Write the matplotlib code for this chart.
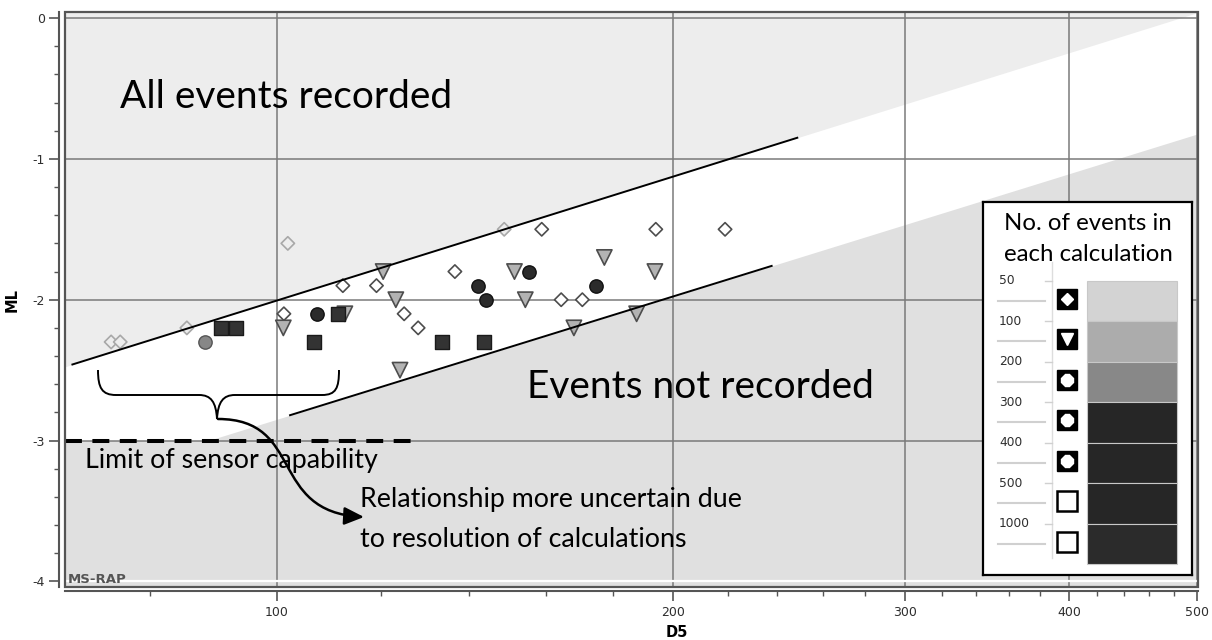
import numpy as np
import matplotlib
matplotlib.use('Agg')
import matplotlib.pyplot as plt
from matplotlib.path import Path
from matplotlib.patches import PathPatch, FancyArrowPatch, Rectangle
from matplotlib.ticker import FixedLocator, FixedFormatter, MultipleLocator, NullFormatter

plt.rcParams['axes.unicode_minus'] = False

# Events per calculation: 50-100 (diamonds)
d5_50 = [74.8, 76.0, 85.4, 101.9, 101.2, 112.2, 119.0, 124.9, 128.0, 136.5,
         148.8, 158.9, 164.4, 170.6, 194.0, 219.0]
ml_50 = [-2.3, -2.3, -2.2, -1.6, -2.1, -1.9, -1.9, -2.1, -2.2, -1.8,
         -1.5, -1.5, -2.0, -2.0, -1.5, -1.5]
# 100-200 (triangles)
d5_100 = [101.1, 112.6, 120.4, 123.1, 124.0, 151.5, 154.4, 168.1, 177.3, 187.6, 193.7]
ml_100 = [-2.2, -2.1, -1.8, -2.0, -2.5, -1.8, -2.0, -2.2, -1.7, -2.1, -1.8]
# 200-300 (grey circle)
d5_200 = [88.1]
ml_200 = [-2.3]
# 300-500 (dark circles)
d5_300 = [107.3, 142.2, 144.2, 155.5, 174.7]
ml_300 = [-2.1, -1.9, -2.0, -1.8, -1.9]
# 500+ (squares)
d5_500 = [90.7, 93.0, 106.7, 111.2, 133.5, 143.7]
ml_500 = [-2.2, -2.2, -2.3, -2.1, -2.3, -2.3]

# Detection band edges
upper_d5 = [69.9, 248.5]
upper_ml = [-2.46, -0.85]
lower_d5 = [102.3, 237.6]
lower_ml = [-2.82, -1.76]
sensor_limit = -3.0
sensor_limit_d5 = [69, 126.6]

# Legend
legend_labels = ['50', '100', '200', '300', '400', '500', '1000']
legend_shades = ['#d3d3d3', '#acacac', '#888888', '#262626', '#262626', '#262626', '#2b2b2b']
legend_icons = ['D', 'v', '8', '8', '8', 's', 's']

x_major = [100, 200, 300, 400, 500]
x_minor = [80, 120, 140, 160, 180, 220, 240, 260, 280, 320, 340, 360, 380,
           420, 440, 460, 480]
y_major = [0, -1, -2, -3, -4]

TEXT_FONT = ['Lato', 'DejaVu Sans']
TICK_FONT = ['DejaVu Sans']
UPPER_SHADE = '#ededed'
LOWER_SHADE = '#e0e0e0'


def band_line(d5, ml, x):
    slope = (ml[1] - ml[0]) / (np.log10(d5[1]) - np.log10(d5[0]))
    return ml[0] + slope * (np.log10(x) - np.log10(d5[0]))


fig = plt.figure(figsize=(12.12, 6.4), dpi=100)
ax = fig.add_axes([65 / 1212, 53 / 640, 1133 / 1212, 575 / 640])
ax.set_xscale('log')
ax.set_xlim(69, 501)
ax.set_ylim(-4.04, 0.043)

# shaded regions
xs = np.geomspace(69, 501, 300)
ax.fill_between(xs, band_line(upper_d5, upper_ml, xs), 0.1, color=UPPER_SHADE, lw=0, zorder=0)
ax.fill_between(xs, -4.2, np.maximum(band_line(lower_d5, lower_ml, xs), sensor_limit),
                color=LOWER_SHADE, lw=0, zorder=0)

# grid
ax.set_axisbelow(True)
ax.xaxis.set_major_locator(FixedLocator(x_major))
ax.xaxis.set_major_formatter(FixedFormatter([str(v) for v in x_major]))
ax.xaxis.set_minor_locator(FixedLocator(x_minor))
ax.xaxis.set_minor_formatter(NullFormatter())
ax.yaxis.set_major_locator(FixedLocator(y_major))
ax.yaxis.set_minor_locator(MultipleLocator(0.2))
ax.grid(which='major', color='#7a7a7a', lw=1.1)
ax.axhline(-4, color='white', lw=1.6, zorder=0.8)


def fade(d5, ml, edge, face):
    up = band_line(upper_d5, upper_ml, np.array(d5))
    hidden = np.array(ml) > up
    ec = ['#a8a8a8' if h else edge for h in hidden]
    fc = [UPPER_SHADE if h else face for h in hidden]
    return ec, fc


ec, fc = fade(d5_50, ml_50, '#4d4d4d', 'white')
ax.scatter(d5_50, ml_50, marker='D', s=6.8 ** 2, facecolors=fc, edgecolors=ec, linewidths=1.2, zorder=3)
ec, fc = fade(d5_100, ml_100, '#4d4d4d', '#b3b3b3')
ax.scatter(d5_100, ml_100, marker='v', s=11 ** 2, facecolors=fc, edgecolors=ec, linewidths=1.2, zorder=3)
ax.scatter(d5_200, ml_200, marker='o', s=9.6 ** 2, facecolors='#878787', edgecolors='#555555', linewidths=1.0, zorder=3)
ax.scatter(d5_300, ml_300, marker='o', s=9.6 ** 2, facecolors='#2b2b2b', edgecolors='#111111', linewidths=1.0, zorder=3)
ax.scatter(d5_500, ml_500, marker='s', s=10.3 ** 2, facecolors='#333333', edgecolors='#1a1a1a', linewidths=1.0, zorder=3)

# band lines and sensor limit
ax.plot(upper_d5, upper_ml, color='black', lw=1.4, zorder=4)
ax.plot(lower_d5, lower_ml, color='black', lw=1.4, zorder=4)
ax.plot(sensor_limit_d5, [sensor_limit, sensor_limit], color='black', lw=2.9,
        ls=(0, (4.2, 2.6)), zorder=4)

# texts
ax.text(76.0, -0.641, 'All events recorded', fontsize=28, family=TEXT_FONT, va='baseline', zorder=5)
ax.text(154.9, -2.699, 'Events not recorded', fontsize=28, family=TEXT_FONT, va='baseline', zorder=5)
ax.text(71.4, -3.198, 'Limit of sensor capability', fontsize=19.3, family=TEXT_FONT, va='baseline', zorder=5)
ax.text(115.6, -3.471, 'Relationship more uncertain due', fontsize=19.3, family=TEXT_FONT, va='baseline', zorder=5)
ax.text(115.6, -3.755, 'to resolution of calculations', fontsize=19.3, family=TEXT_FONT, va='baseline', zorder=5)
ax.text(0.002, 0.007, 'MS-RAP', transform=ax.transAxes, fontsize=9.5, fontweight='bold',
        color='#555555', va='baseline', zorder=5)

# axes styling
for side in ['top', 'right']:
    ax.spines[side].set_visible(False)
ax.spines['left'].set_position(('outward', 4))
ax.spines['bottom'].set_position(('outward', 3))
for side in ['left', 'bottom']:
    ax.spines[side].set_color('#555555')
    ax.spines[side].set_linewidth(1.5)
ax.add_patch(Rectangle((0, 0), 1, 1, transform=ax.transAxes, fill=False, ec='#555555',
                       lw=1.6, clip_on=False, zorder=6))
ax.tick_params(which='major', length=7, width=1.2, color='#555555', labelcolor='#2e2e2e', labelsize=9)
ax.tick_params(which='minor', length=3.5, width=1.0, color='#555555')
for lab in ax.get_xticklabels() + ax.get_yticklabels():
    lab.set_family(TICK_FONT)
ax.set_xlabel('D5', fontsize=10.5, fontweight='bold', family=TICK_FONT)
ax.set_ylabel('ML', fontsize=10.5, fontweight='bold', family=TICK_FONT)
ax.xaxis.set_label_coords(0.540, -0.066)
ax.yaxis.set_label_coords(-0.040, 0.499)

# brace and arrow (overlay in figure pixels)
ann = fig.add_axes([0, 0, 1, 1])
ann.set_xlim(0, 1212)
ann.set_ylim(640, 0)
ann.axis('off')
brace = Path([(98, 370), (98, 388), (102, 395), (116, 395),
              (199, 395),
              (211, 395), (216, 402), (217, 419),
              (218, 402), (223, 395), (235, 395),
              (322, 395),
              (336, 395), (339, 388), (339, 370)],
             [Path.MOVETO, Path.CURVE4, Path.CURVE4, Path.CURVE4,
              Path.LINETO,
              Path.CURVE4, Path.CURVE4, Path.CURVE4,
              Path.CURVE4, Path.CURVE4, Path.CURVE4,
              Path.LINETO,
              Path.CURVE4, Path.CURVE4, Path.CURVE4])
ann.add_patch(PathPatch(brace, fill=False, ec='black', lw=1.4))
arrow_path = Path([(218, 419), (305, 419), (268, 512), (364, 517)],
                  [Path.MOVETO, Path.CURVE4, Path.CURVE4, Path.CURVE4])
ann.add_patch(FancyArrowPatch(path=arrow_path, arrowstyle='-|>,head_length=1.0,head_width=0.45',
                              mutation_scale=12, lw=1.8, color='black'))

# legend
lg = fig.add_axes([983 / 1212, 1 - 575 / 640, 209 / 1212, 373 / 640])
lg.set_xlim(0, 209)
lg.set_ylim(373, 0)
lg.set_xticks([])
lg.set_yticks([])
for sp in lg.spines.values():
    sp.set_color('black')
    sp.set_linewidth(1.6)
lg.text(105, 28, 'No. of events in', ha='center', va='baseline', fontsize=17.3, family=TEXT_FONT)
lg.text(105, 59, 'each calculation', ha='center', va='baseline', fontsize=17.3, family=TEXT_FONT)
step = 40.5
tops = 78.7 + step * np.arange(len(legend_labels))
lg.barh(tops + step / 2, 90, height=step, left=103.7, color=legend_shades, edgecolor='#c8c8c8', lw=0.8)
lg.plot([69, 69], [60, 356], color='#dddddd', lw=1)
for top, label, icon in zip(tops, legend_labels, legend_icons):
    lg.text(16, top, label, va='center', fontsize=8.8, family=TICK_FONT, color='#2e2e2e')
    lg.plot([15, 62], [top + step / 2, top + step / 2], color='#d0d0d0', lw=1.5)
    lg.plot([62, 69], [top, top], color='#d0d0d0', lw=1)
    cy = top + 18
    if icon == 's':
        lg.plot(83.7, cy, marker='s', ms=14, mfc='white', mec='black', mew=1.8)
    else:
        lg.plot(83.7, cy, marker='s', ms=15, mfc='black', mec='black')
        inner = 6 if icon == 'D' else 9
        lg.plot(83.7, cy, marker=icon, ms=inner, mfc='white', mec='white')

fig.savefig('out.png', dpi=100)
